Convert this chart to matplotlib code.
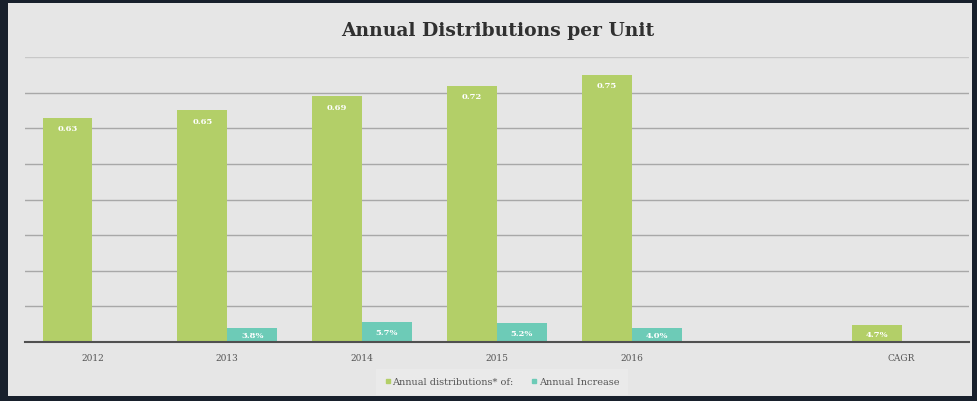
import numpy as np
import matplotlib
matplotlib.use("Agg")
import matplotlib.pyplot as plt
from matplotlib.patches import Rectangle
from matplotlib.lines import Line2D

# Data
categories = ['2012', '2013', '2014', '2015', '2016', '', 'CAGR']
distributions = [0.63, 0.65, 0.69, 0.72, 0.75, np.nan, 0.047]
dist_labels = ['0.63', '0.65', '0.69', '0.72', '0.75', '', '4.7%']
increase = [np.nan, 0.038, 0.057, 0.052, 0.040, np.nan, np.nan]
inc_labels = ['', '3.8%', '5.7%', '5.2%', '4.0%', '', '']

green = '#b3cf68'
teal = '#6dcbb7'

W, H = 977, 402
fig = plt.figure(figsize=(W / 100, H / 100), dpi=100)
fig.patch.set_facecolor('#18202c')

# light panel behind the chart
fig.patches.append(Rectangle((8 / W, 1 - 397 / H), (972 - 8) / W, (397 - 4) / H,
                             transform=fig.transFigure, facecolor='#e6e6e6',
                             edgecolor='none', zorder=-5))

ax = fig.add_axes([25 / W, 1 - 343 / H, 944 / W, (343 - 58) / H])
ax.set_facecolor('none')
ax.set_zorder(2)

x = np.arange(len(categories))
bw = 0.37
b1 = ax.bar(x - bw / 2, distributions, bw, color=green, zorder=3)
b2 = ax.bar(x + bw / 2, increase, bw, color=teal, zorder=3)

# value labels inside bars
for rect, lab in zip(b1, dist_labels):
    h = rect.get_height()
    if not lab or np.isnan(h):
        continue
    cx = rect.get_x() + rect.get_width() / 2
    ypos = h - 0.03 if h > 0.1 else h / 2
    ax.text(cx, ypos, lab, ha='center', va='center', color='white',
            fontsize=6, fontweight='bold', family='DejaVu Serif', zorder=4)
for rect, lab in zip(b2, inc_labels):
    h = rect.get_height()
    if not lab or np.isnan(h):
        continue
    cx = rect.get_x() + rect.get_width() / 2
    ax.text(cx, h / 2, lab, ha='center', va='center', color='white',
            fontsize=6, fontweight='bold', family='DejaVu Serif', zorder=4)

ax.set_xlim(-0.5, len(categories) - 0.5)
ax.set_ylim(0, 0.8)
ax.set_yticks(np.arange(0, 0.81, 0.1))
ax.yaxis.grid(True, color='#a8a8a8', linewidth=1.0, zorder=1)
ax.yaxis.get_gridlines()[-1].set_color('#c8c8c8')
ax.set_axisbelow(True)
ax.set_yticklabels([])
ax.tick_params(axis='y', length=0)
ax.set_xticks(x)
ax.set_xticklabels(categories, family='DejaVu Serif', fontsize=6.5, color='#555555')
ax.tick_params(axis='x', length=0, pad=8)
for s in ['top', 'right', 'left']:
    ax.spines[s].set_visible(False)
ax.spines['bottom'].set_color('#505050')
ax.spines['bottom'].set_linewidth(1.5)
ax.spines['bottom'].set_zorder(5)

fig.text(498 / W, 1 - 31 / H, 'Annual Distributions per Unit', ha='center', va='center',
         family='DejaVu Serif', fontweight='bold', fontsize=13.5, color='#303030')

handles = [Line2D([], [], marker='s', linestyle='none', color=green, markersize=3.5),
           Line2D([], [], marker='s', linestyle='none', color=teal, markersize=3.5)]
leg = fig.legend(handles=handles, labels=['Annual distributions* of:', 'Annual Increase'],
                 loc='center', bbox_to_anchor=(502 / W, 1 - 383 / H),
                 ncol=2, frameon=True, handlelength=0.6,
                 handletextpad=0.2, columnspacing=1.8, borderpad=0.6,
                 prop={'family': 'DejaVu Serif', 'size': 7})
leg.get_frame().set_facecolor('#ececec')
leg.get_frame().set_edgecolor('none')
leg.get_frame().set_boxstyle('square')
for t in leg.get_texts():
    t.set_color('#555555')

fig.savefig('out.png', dpi=100, facecolor=fig.get_facecolor())
